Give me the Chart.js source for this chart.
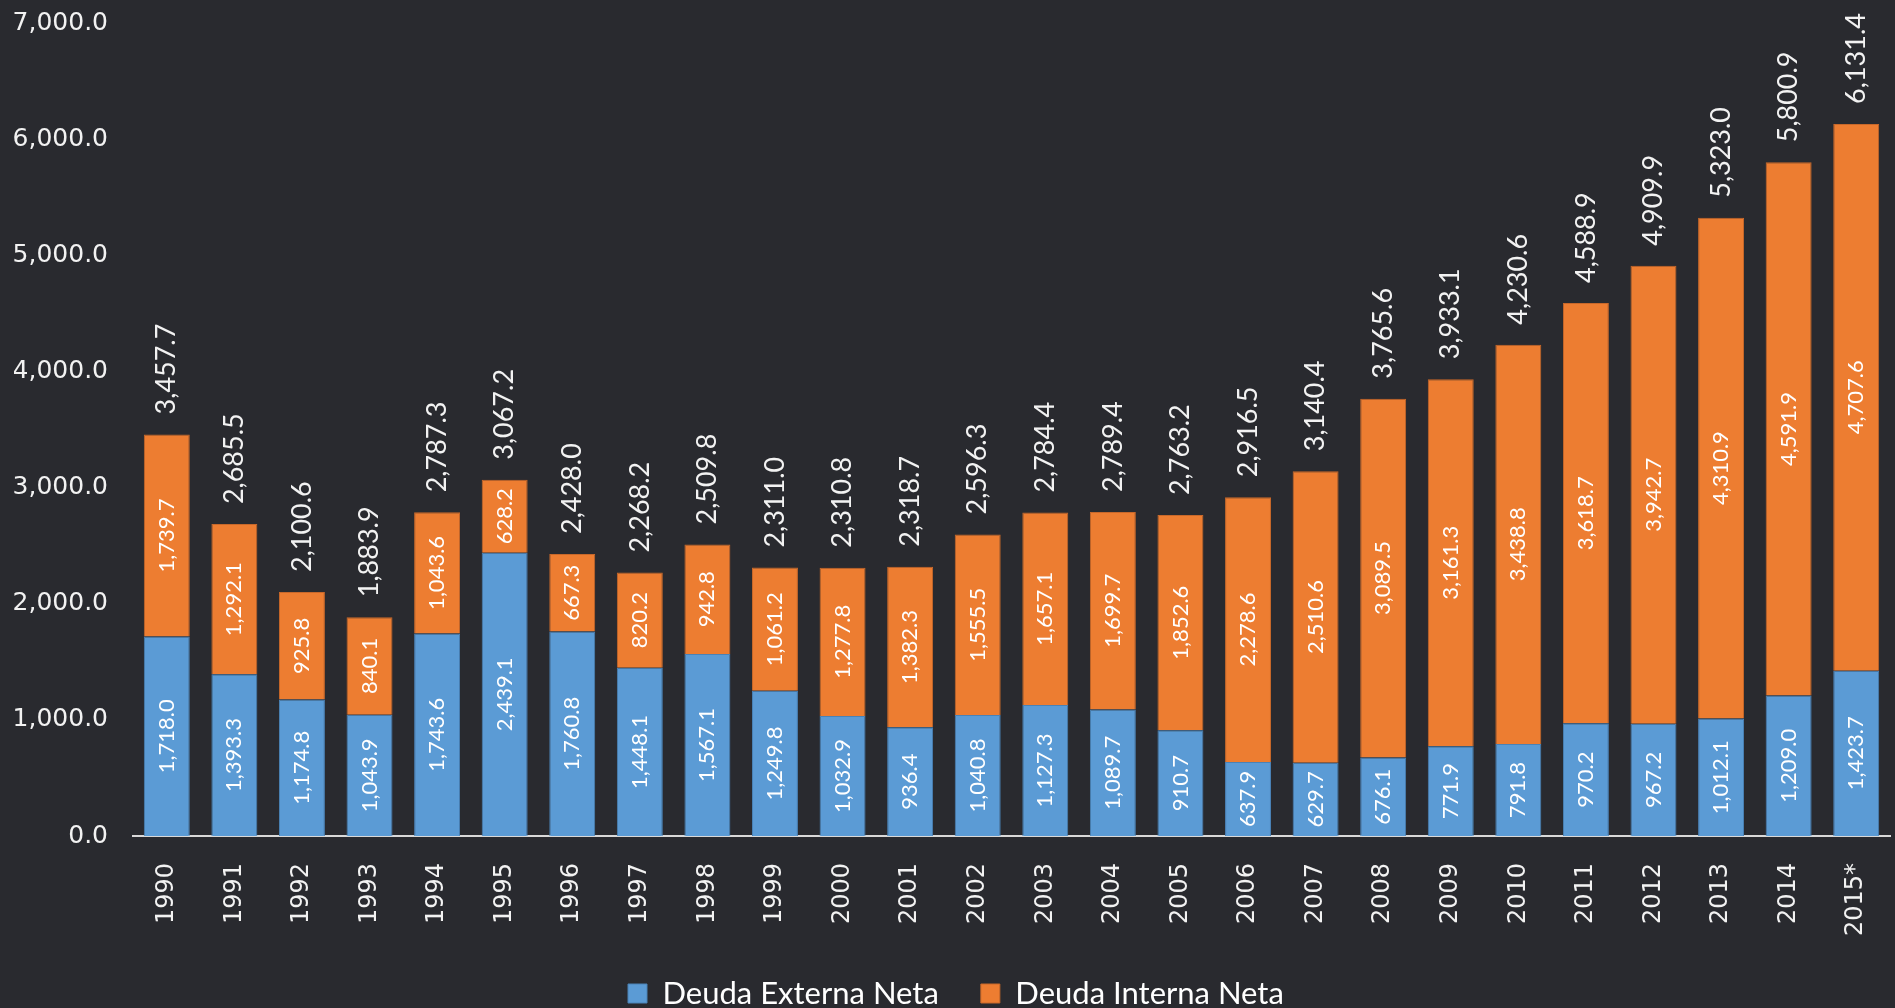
<!DOCTYPE html>
<html>
<head>
<meta charset="utf-8">
<script src="https://cdn.jsdelivr.net/npm/chart.js@4.4.0/dist/chart.umd.min.js"></script>
<style>
    html, body { margin: 0; padding: 0; background: #292a2f; }
    #wrap { width: 1895px; height: 1008px; }
</style>
</head>
<body>
<div id="wrap"><canvas id="deudaChart"></canvas></div>
<script>
const years = ['1990', '1991', '1992', '1993', '1994', '1995', '1996', '1997', '1998', '1999',
    '2000', '2001', '2002', '2003', '2004', '2005', '2006', '2007', '2008', '2009',
    '2010', '2011', '2012', '2013', '2014', '2015*'];
const deudaExterna = [1718.0, 1393.3, 1174.8, 1043.9, 1743.6, 2439.1, 1760.8, 1448.1, 1567.1, 1249.8,
    1032.9, 936.4, 1040.8, 1127.3, 1089.7, 910.7, 637.9, 629.7, 676.1, 771.9,
    791.8, 970.2, 967.2, 1012.1, 1209.0, 1423.7];
const deudaInterna = [1739.7, 1292.1, 925.8, 840.1, 1043.6, 628.2, 667.3, 820.2, 942.8, 1061.2,
    1277.8, 1382.3, 1555.5, 1657.1, 1699.7, 1852.6, 2278.6, 2510.6, 3089.5, 3161.3,
    3438.8, 3618.7, 3942.7, 4310.9, 4591.9, 4707.6];
const totales = [3457.7, 2685.5, 2100.6, 1883.9, 2787.3, 3067.2, 2428.0, 2268.2, 2509.8, 2311.0,
    2310.8, 2318.7, 2596.3, 2784.4, 2789.4, 2763.2, 2916.5, 3140.4, 3765.6, 3933.1,
    4230.6, 4588.9, 4909.9, 5323.0, 5800.9, 6131.4];

function fmt(v) {
    return v.toLocaleString('en-US', { minimumFractionDigits: 1, maximumFractionDigits: 1 });
}

function drawVertical(ctx, text, x, y, align) {
    ctx.save();
    ctx.translate(x, y);
    ctx.rotate(-Math.PI / 2);
    ctx.textAlign = align;
    ctx.textBaseline = 'middle';
    ctx.fillText(text, 0, 0);
    ctx.restore();
}

// values inside each segment + totals above the stack
const barLabels = {
    id: 'barLabels',
    afterDatasetsDraw(chart) {
        const ctx = chart.ctx;
        ctx.save();
        ctx.fillStyle = '#ffffff';
        ctx.font = '22px Lato';
        chart.data.datasets.forEach((ds, di) => {
            const meta = chart.getDatasetMeta(di);
            meta.data.forEach((bar, i) => {
                drawVertical(ctx, fmt(ds.data[i]), bar.x, (bar.y + bar.base) / 2, 'center');
            });
        });
        ctx.fillStyle = '#f2f2f2';
        ctx.font = '27px Lato';
        chart.getDatasetMeta(1).data.forEach((bar, i) => {
            drawVertical(ctx, fmt(totales[i]), bar.x, bar.y - 20, 'left');
        });
        ctx.restore();
    }
};

// first legend box sits at x=628 in the reference
const legendShift = {
    id: 'legendShift',
    afterLayout(chart) {
        chart.legend.left = 586;
    }
};

const ctx = document.getElementById('deudaChart').getContext('2d');
new Chart(ctx, {
    type: 'bar',
    data: {
        labels: years,
        datasets: [{
            label: 'Deuda Externa Neta',
            data: deudaExterna,
            backgroundColor: '#5b9bd5',
            borderColor: '#4a82b6',
            borderWidth: 1
        }, {
            label: 'Deuda Interna Neta',
            data: deudaInterna,
            backgroundColor: '#ed7d31',
            borderColor: '#c8682a',
            borderWidth: 1
        }]
    },
    options: {
        responsive: true,
        maintainAspectRatio: false,
        animation: false,
        layout: { padding: { left: 14, right: 5, top: 23, bottom: -11 } },
        datasets: {
            bar: { categoryPercentage: 1, barPercentage: 0.68 }
        },
        plugins: {
            legend: {
                position: 'bottom',
                align: 'start',
                labels: {
                    color: '#ffffff',
                    font: { family: 'Lato', size: 31 },
                    boxWidth: 19,
                    boxHeight: 19,
                    padding: 42
                }
            },
            tooltip: { enabled: false }
        },
        scales: {
            x: {
                stacked: true,
                grid: { display: false, drawTicks: false },
                border: { display: true, color: '#d9d9d9', width: 2 },
                ticks: {
                    color: '#f2f2f2',
                    font: { family: 'DejaVu Sans', size: 24 },
                    minRotation: 90,
                    maxRotation: 90,
                    padding: 27,
                    autoSkip: false
                },
                afterFit: (scale) => {
                    scale.height = 100;
                    scale.paddingLeft = 0;
                    scale.paddingRight = 0;
                }
            },
            y: {
                stacked: true,
                min: 0,
                max: 7000,
                grid: { display: false, drawTicks: false },
                border: { display: false },
                ticks: {
                    stepSize: 1000,
                    color: '#f2f2f2',
                    font: { family: 'DejaVu Sans', size: 25 },
                    padding: 25,
                    callback: (v) => fmt(v)
                },
                afterFit: (scale) => {
                    scale.width = 119;
                    scale.paddingTop = 0;
                }
            }
        }
    },
    plugins: [barLabels, legendShift]
});
</script>
</body>
</html>
